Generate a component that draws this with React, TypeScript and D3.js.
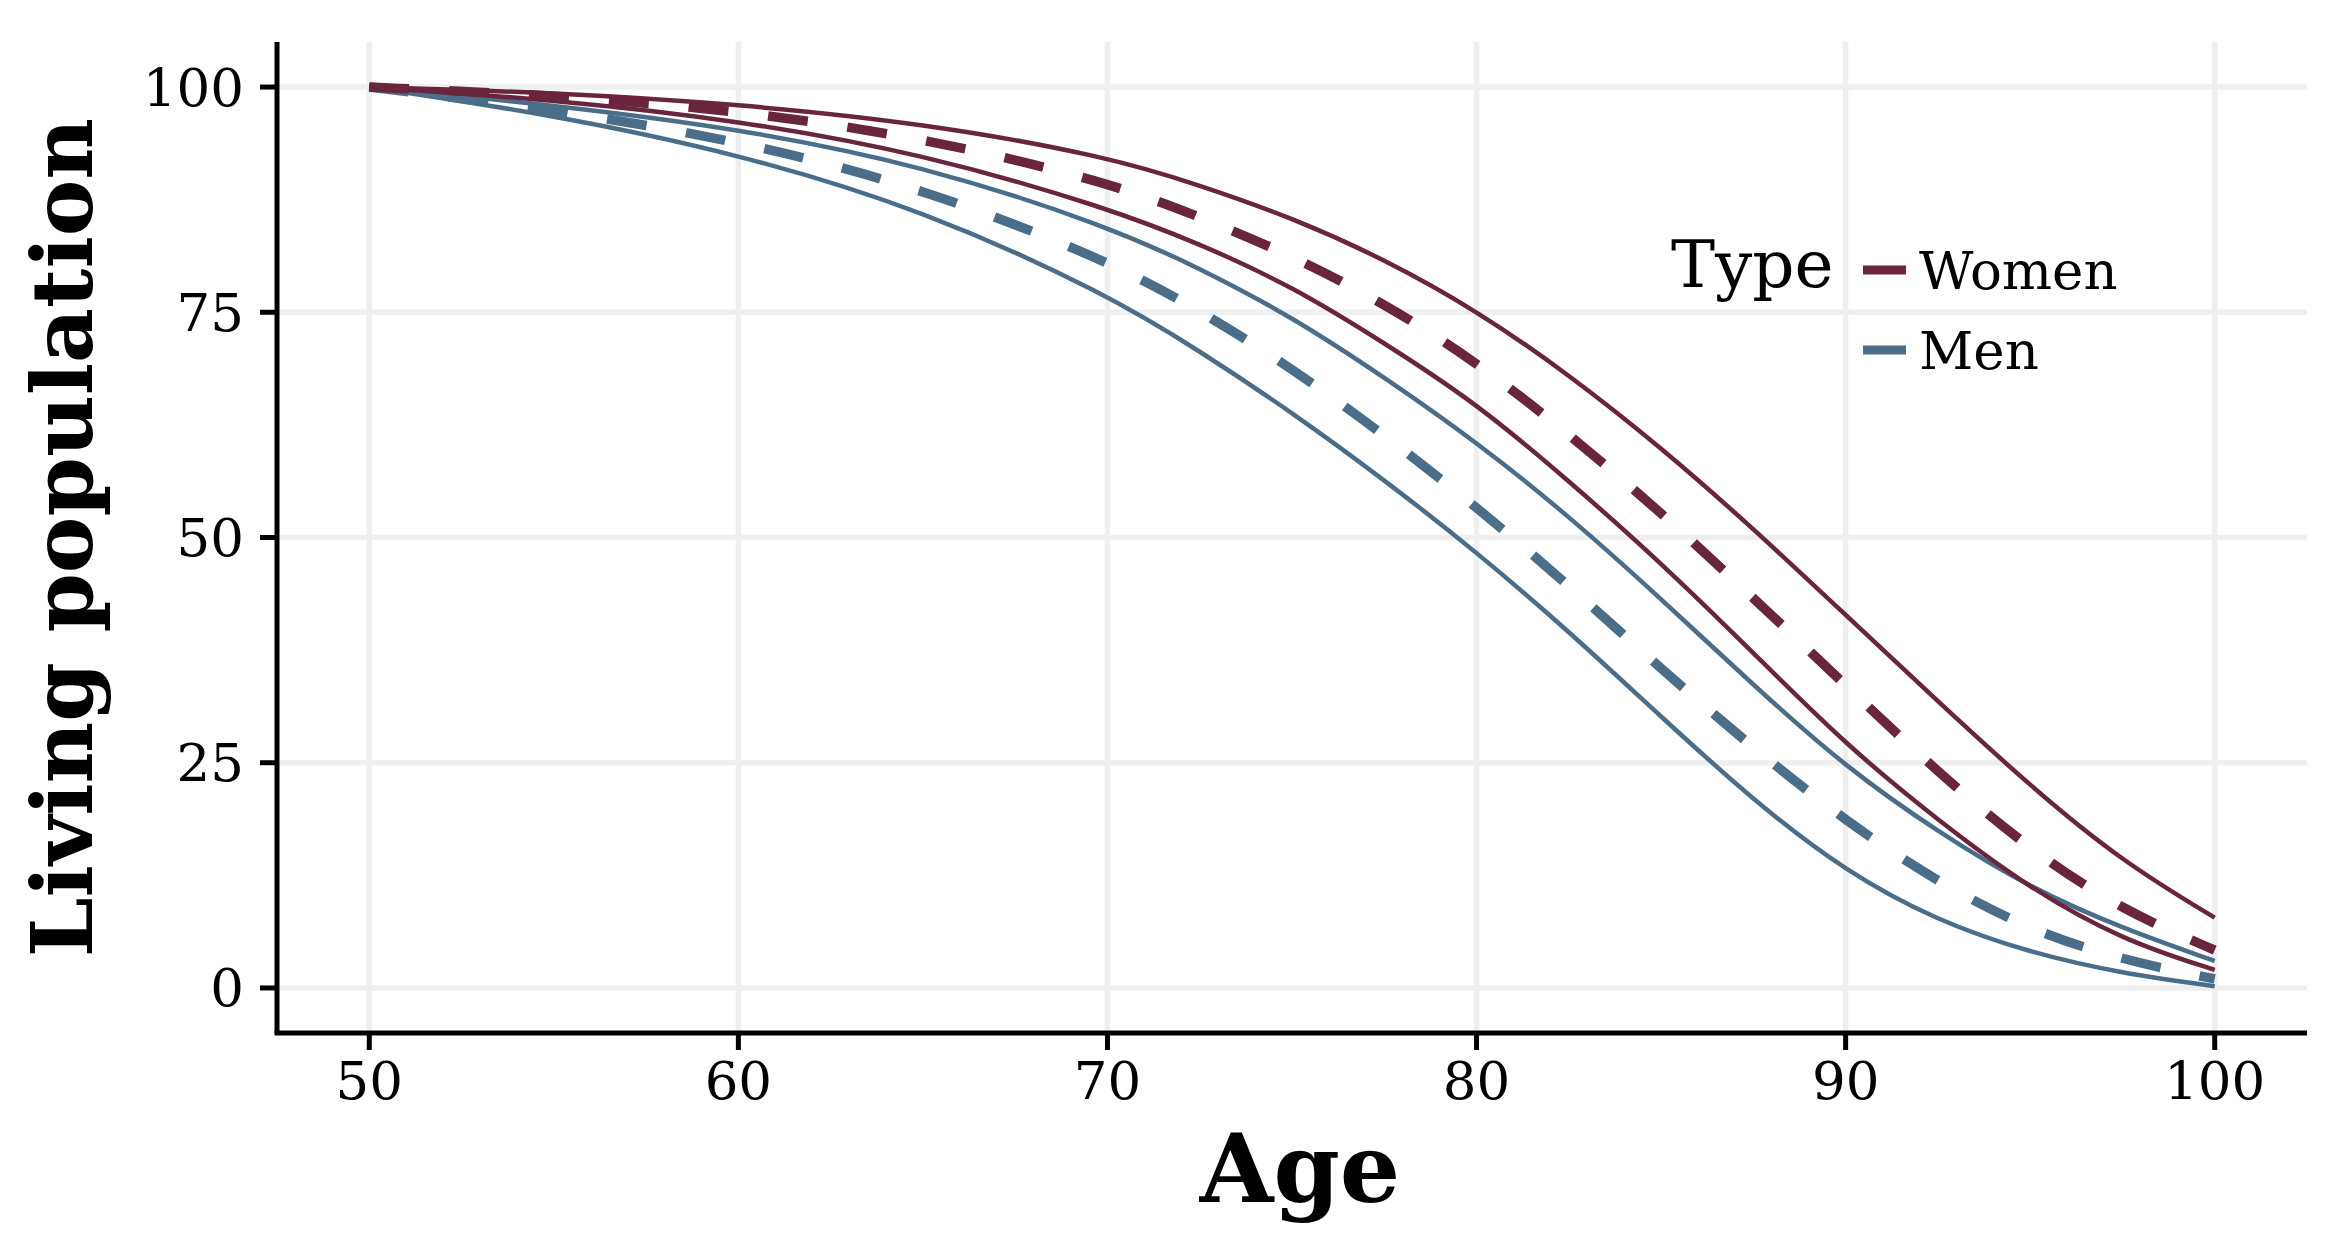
import React from "react";
import * as d3 from "d3";

const ages = [50, 55, 60, 65, 70, 72.5, 75, 77.5, 80, 82.5, 85, 87.5, 90, 92.5, 95, 97.5, 100];
const womenUpper = [100, 99.4, 98.1, 96.0, 92.3, 89.1, 85.5, 80.9, 75.2, 68.1, 60.0, 51.0, 41.4, 31.8, 22.4, 14.0, 7.8];
const womenMid = [100, 99.1, 97.4, 94.4, 89.5, 85.6, 81.3, 76.0, 69.5, 61.5, 52.8, 43.3, 33.6, 23.9, 15.3, 8.6, 4.2];
const womenLower = [100, 98.6, 96.3, 92.6, 86.6, 82.6, 77.9, 71.6, 64.9, 56.3, 47.2, 37.2, 27.0, 18.6, 11.0, 5.3, 2.0];
const menUpper = [100, 98.0, 95.4, 91.3, 84.6, 79.9, 74.5, 67.8, 60.6, 52.4, 43.2, 33.6, 24.5, 17.3, 11.1, 6.6, 3.0];
const menMid = [100, 97.5, 94.1, 88.8, 80.8, 75.2, 68.8, 61.4, 53.4, 44.7, 35.4, 26.6, 18.5, 11.7, 6.4, 3.1, 1.0];
const menLower = [100, 96.9, 92.6, 86.4, 77.0, 70.7, 63.9, 56.4, 48.4, 39.6, 30.1, 20.8, 12.9, 7.4, 3.9, 1.6, 0.2];

const xTicks = [50, 60, 70, 80, 90, 100];
const yTicks = [0, 25, 50, 75, 100];
const legendTypes = ["Women", "Men"];
const colors: Record<string, string> = { Women: "#69243E", Men: "#4A6E8A" };

const W = 2344;
const H = 1255;
const FONT = "'DejaVu Serif', serif";

export default function App() {
  const x = d3.scaleLinear().domain([47.5, 102.5]).range([277, 2307]);
  const y = d3.scaleLinear().domain([-5, 105]).range([1033, 42]);
  const line = d3
    .line<number>()
    .x((_, i) => x(ages[i]))
    .y((d) => y(d))
    .curve(d3.curveBasis);

  const series = [
    { type: "Men", values: menUpper, dashed: false },
    { type: "Men", values: menLower, dashed: false },
    { type: "Men", values: menMid, dashed: true },
    { type: "Women", values: womenUpper, dashed: false },
    { type: "Women", values: womenLower, dashed: false },
    { type: "Women", values: womenMid, dashed: true },
  ];

  const [x0, x1] = x.range();
  const [y0, y1] = y.range();

  return (
    <svg
      width={W}
      height={H}
      style={{ position: "absolute", left: 0, top: 0, background: "#fff" }}
      fontFamily={FONT}
    >
      <rect x={0} y={0} width={W} height={H} fill="#fff" />
      {/* grid */}
      {yTicks.map((t) => (
        <line key={"gy" + t} x1={x0} x2={x1} y1={y(t)} y2={y(t)} stroke="#efefef" strokeWidth={5.5} />
      ))}
      {xTicks.map((t) => (
        <line key={"gx" + t} x1={x(t)} x2={x(t)} y1={y1} y2={y0} stroke="#efefef" strokeWidth={5.5} />
      ))}
      {/* lines */}
      {series.map((s, i) => (
        <path
          key={i}
          d={line(s.values) || ""}
          fill="none"
          stroke={colors[s.type]}
          strokeWidth={s.dashed ? 9.5 : 4.5}
          strokeDasharray={s.dashed ? "40 40" : undefined}
          strokeLinecap="butt"
        />
      ))}
      {/* axes */}
      <line x1={x0} x2={x0} y1={y1} y2={y0} stroke="#000" strokeWidth={5} />
      <line x1={x0 - 2.5} x2={x1} y1={y0} y2={y0} stroke="#000" strokeWidth={5} />
      {yTicks.map((t) => (
        <g key={"yt" + t}>
          <line x1={x0 - 17} x2={x0} y1={y(t)} y2={y(t)} stroke="#000" strokeWidth={5} />
          <text x={244} y={y(t)} textAnchor="end" dominantBaseline="central" fontSize={53} fill="#000">
            {t}
          </text>
        </g>
      ))}
      {xTicks.map((t) => (
        <g key={"xt" + t}>
          <line x1={x(t)} x2={x(t)} y1={y0} y2={y0 + 17} stroke="#000" strokeWidth={5} />
          <text x={x(t)} y={1099} textAnchor="middle" fontSize={53} fill="#000">
            {t}
          </text>
        </g>
      ))}
      {/* axis titles */}
      <text x={(x0 + x1) / 2 + 8} y={1202} textAnchor="middle" fontSize={95} fontWeight="bold" fill="#000">
        Age
      </text>
      <text
        transform={`translate(92, ${(y0 + y1) / 2}) rotate(-90)`}
        textAnchor="middle"
        fontSize={85}
        fontWeight="bold"
        fill="#000"
      >
        Living population
      </text>
      {/* legend */}
      <text x={1671} y={287} fontSize={66} fill="#000">
        Type
      </text>
      {legendTypes.map((t, i) => {
        const cy = 270 + i * 80;
        return (
          <g key={t}>
            <line x1={1863} x2={1906} y1={cy} y2={cy} stroke={colors[t]} strokeWidth={9} />
            <text x={1919} y={cy + 19} fontSize={53} fill="#000">
              {t}
            </text>
          </g>
        );
      })}
    </svg>
  );
}
